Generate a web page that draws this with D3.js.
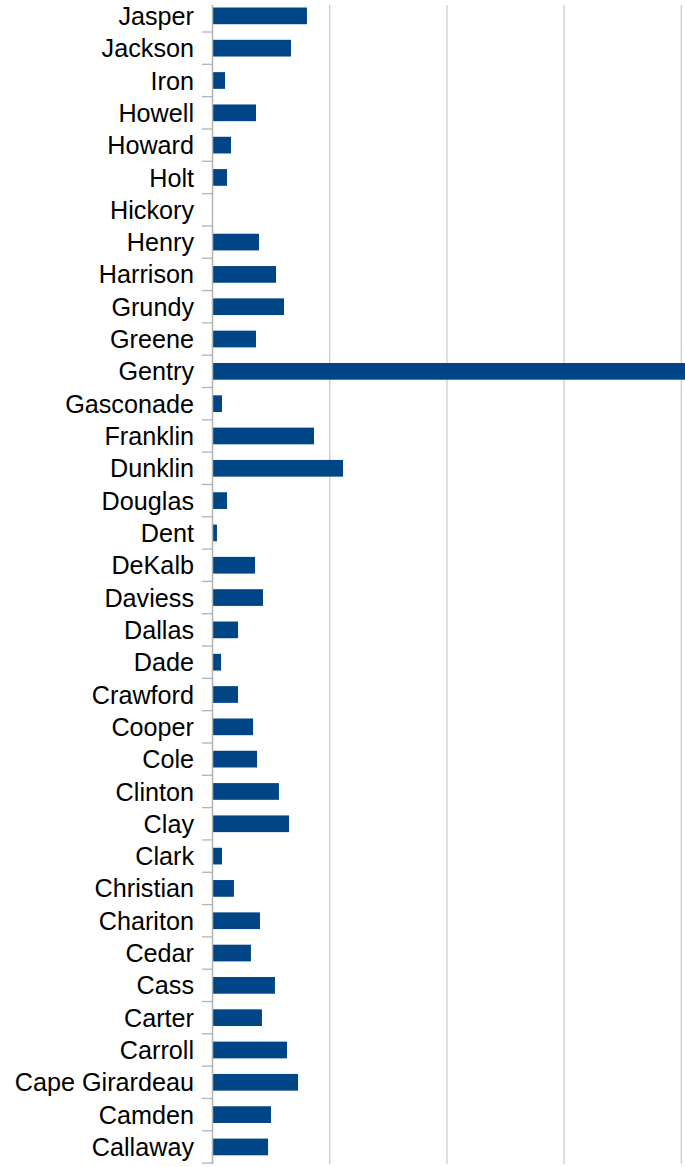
<!DOCTYPE html>
<html>
<head>
<meta charset="utf-8">
<script src="https://cdn.jsdelivr.net/npm/d3@7"></script>
<style>
  html, body { margin: 0; padding: 0; background: #fff; }
  svg { display: block; }
</style>
</head>
<body>
<svg id="chart" width="685" height="1167"></svg>
<script>
// Categories, top to bottom
const counties = ["Jasper","Jackson","Iron","Howell","Howard","Holt","Hickory","Henry","Harrison","Grundy","Greene","Gentry","Gasconade","Franklin","Dunklin","Douglas","Dent","DeKalb","Daviess","Dallas","Dade","Crawford","Cooper","Cole","Clinton","Clay","Clark","Christian","Chariton","Cedar","Cass","Carter","Carroll","Cape Girardeau","Camden","Callaway"];
// Values (gridline step = 1)
const values = [0.806,0.670,0.107,0.371,0.158,0.124,0,0.397,0.542,0.610,0.371,4.2,0.081,0.866,1.114,0.124,0.038,0.363,0.431,0.218,0.073,0.218,0.346,0.380,0.567,0.653,0.081,0.183,0.405,0.328,0.533,0.422,0.636,0.730,0.499,0.474];
const gridTicks = [1,2,3,4];

const data = counties.map((c,i)=>({name:c, value:values[i]}));
const svg = d3.select("#chart");
const W = 685, H = 1167;

const x = d3.scaleLinear().domain([0,4]).range([212.5, 681.3]);
const y = d3.scaleBand().domain(counties).range([-0.3, 1163.1]).paddingInner(0.483).paddingOuter(0.2415);
const yTick = d3.scaleBand().domain(counties).range([-0.3, 1163.1]);

const plotTop = 5, plotBottom = 1164;

svg.append("defs").append("clipPath").attr("id","clip")
  .append("rect").attr("x",0).attr("y",0).attr("width",W).attr("height",H);

// gridlines
svg.append("g").selectAll("line").data(gridTicks).join("line")
  .attr("x1",d=>x(d)).attr("x2",d=>x(d))
  .attr("y1",plotTop).attr("y2",plotBottom)
  .attr("stroke","#cccccc").attr("stroke-width",1.3);

// bars
svg.append("g").attr("clip-path","url(#clip)").selectAll("rect").data(data).join("rect")
  .attr("x",x(0)).attr("y",d=>y(d.name))
  .attr("width",d=>Math.max(0,x(d.value)-x(0)))
  .attr("height",y.bandwidth())
  .attr("fill","#004586");

// axis line
svg.append("line").attr("x1",x(0)).attr("x2",x(0)).attr("y1",plotTop).attr("y2",plotBottom)
  .attr("stroke","#b3b3b3").attr("stroke-width",1.5);

// tick marks at band boundaries
const bounds = counties.map(c=>yTick(c)+yTick.bandwidth()).filter(v=>v>plotTop);
svg.append("g").selectAll("line").data(bounds).join("line")
  .attr("x1",202).attr("x2",x(0)).attr("y1",d=>d).attr("y2",d=>d)
  .attr("stroke","#b3b3b3").attr("stroke-width",1.3);

// labels
svg.append("g").selectAll("text").data(counties).join("text")
  .attr("x",194).attr("y",d=>yTick(d)+yTick.bandwidth()/2)
  .attr("dy","0.36em")
  .attr("text-anchor","end")
  .attr("font-family","'Liberation Sans', Arial, sans-serif")
  .attr("font-size",25.2)
  .attr("fill","#000")
  .text(d=>d);
</script>
</body>
</html>
